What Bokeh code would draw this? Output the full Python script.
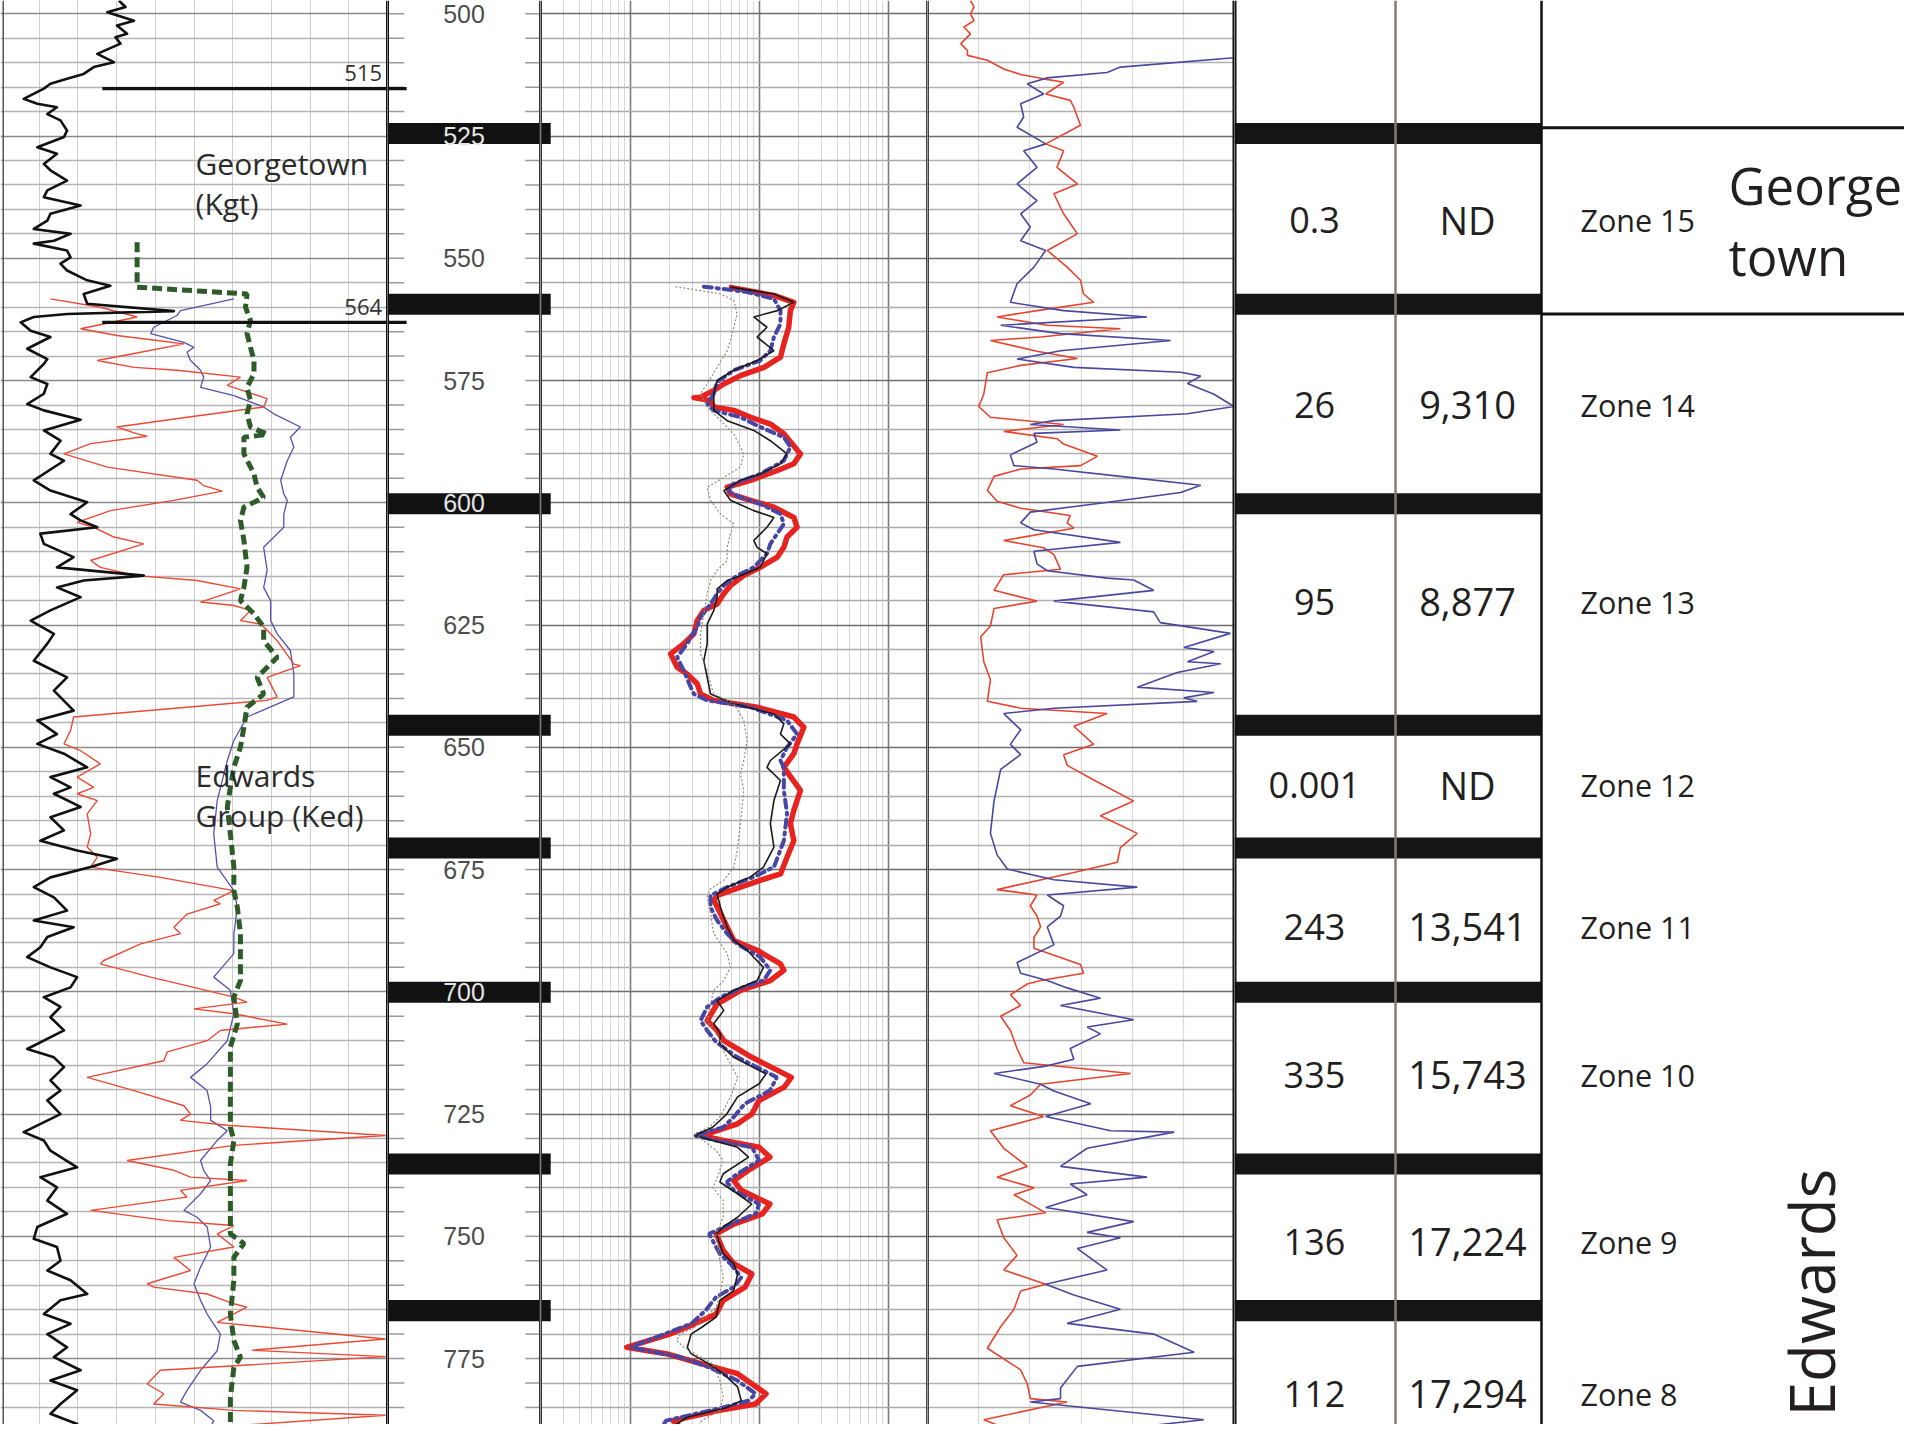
import numpy as np
from bokeh.plotting import figure
from bokeh.layouts import row
from bokeh.models import Range1d, FixedTicker, Grid, Span
from bokeh.core.properties import value
from bokeh.embed import file_html
from bokeh.resources import INLINE

# ------------------------------------------------------------------ data
# Track 1 (linear, % of track): (depth ft, value)
T1_BLACK = [(497.3,30.6),(498.6,32.3),(499.7,27.6),(501.4,34.5),(502.4,30.1),(504.1,32.7),(504.8,29.7),(506.1,31.0),(508.2,25.0),(509.9,29.3),(510.9,24.1),(512.3,21.5),(513.3,17.2),(514.3,12.9),(515.3,11.2),(517.4,6.0),(518.4,9.5),(519.1,14.6),(520.5,12.1),(521.8,15.5),(523.9,17.2),(525.2,16.4),(527.3,9.5),(528.6,14.6),(530.7,11.2),(532.0,12.9),(534.1,17.2),(536.1,12.1),(537.5,11.2),(539.2,20.7),(540.9,12.9),(542.3,12.1),(544.0,8.6),(545.0,18.1),(546.4,13.8),(547.0,8.6),(548.4,17.2),(549.8,18.1),(551.1,15.5),(552.5,17.2),(554.5,22.4),(555.6,28.4),(557.3,21.5),(559.3,22.4),(560.8,44.8),(561.4,17.2),(562.0,8.6),(563.1,5.2),(564.8,7.8),(566.1,12.9),(568.5,6.9),(570.6,12.1),
    (571.6,11.2),(574.3,7.8),(575.7,12.1),(577.7,11.2),(579.8,6.9),(581.1,11.2),(583.0,20.7),(585.2,11.2),(587.3,15.5),(590.0,12.9),(591.4,16.4),(595.4,8.6),(597.5,12.9),(599.9,22.4),(602.3,18.1),(603.6,20.7),(605.0,25.0),(606.3,10.3),(608.4,11.2),(611.1,18.9),(613.2,14.6),(614.9,37.0),(615.9,21.5),(617.3,14.6),(619.3,20.7),
    (622.0,12.9),(624.1,7.8),(626.8,13.8),(628.8,12.1),(632.3,8.6),(635.7,17.2),(638.4,13.8),(642.5,18.9),(644.5,9.5),(647.3,14.6),(649.3,9.5),(651.3,16.4),(654.1,22.4),(656.1,12.9),(658.2,18.1),(659.5,13.8),(662.2,20.7),(664.3,12.9),(667.0,16.4),(669.1,10.3),(671.1,19.8),(672.8,30.1),(674.5,23.3),(676.6,12.9),(678.6,8.6),(680.7,13.8),(683.4,17.2),(685.4,8.6),(686.8,18.9),(688.8,12.1),(690.9,10.3),(692.9,6.9),(695.0,12.9),(697.0,19.8),
    (699.1,18.1),(701.1,11.2),(703.1,15.5),(705.2,12.9),(707.9,16.4),(711.7,6.9),(713.4,13.8),(715.4,16.4),(718.1,12.9),(720.2,15.5),(722.2,12.1),(725.0,15.5),(728.7,6.0),(730.4,11.2),(732.5,12.9),(735.9,19.8),(737.9,10.3),(740.0,14.6),(742.7,12.1),(745.4,17.2),(748.1,9.5),(750.5,8.6),(752.2,14.6),(755.0,15.5),(757.0,12.1),(759.0,18.1),(761.8,22.4),(763.1,15.5),(765.9,11.2),(767.9,18.1),(770.0,12.1),(772.7,17.2),(774.7,13.8),(777.4,20.7),(779.5,12.9),(781.5,19.8),(784.3,15.5),(786.3,12.9),(788.4,19.8),(789.7,14.6),(791.4,21.5)]

T1_RED = [(558.3,12.9),(560.0,25.8),(562.0,35.3),(564.4,20.7),(565.8,30.1),(566.8,40.5),(567.5,47.4),(569.2,36.2),(570.9,25.0),(572.3,34.5),(572.9,45.6),(574.3,62.0),(576.0,58.6),(578.7,68.9),(580.4,68.0),(582.5,48.2),(584.5,30.1),(585.9,35.3),(586.4,37.9),(587.9,23.3),(590.0,16.4),(592.7,27.6),(595.4,50.8),(596.5,52.5),(597.6,57.3),(599.5,44.8),(601.6,28.4),(604.0,19.8),(605.0,24.1),(607.0,29.3),(608.4,37.0),(611.8,23.3),(613.2,25.8),(614.9,35.3),(615.9,50.8),(617.6,62.0),(620.3,51.7),(621.0,60.3),(622.0,64.6),(624.1,62.0),(624.8,67.2),(626.8,69.8),(628.2,71.5),(633.0,75.8),(633.3,77.5),(635.7,68.9),(639.7,71.5),(640.4,68.9),(643.8,18.9),(646.6,18.1),(649.3,16.4),(650.7,20.7),(653.4,25.8),(656.1,19.8),(658.2,24.1),(659.5,19.8),(660.9,25.0),(663.6,22.4),(667.7,23.3),(670.4,22.4),(672.5,25.0),(674.5,23.3),(676.6,41.3),(679.3,60.3),(681.3,55.1),(682.0,56.8),(684.1,48.2),(686.8,44.8),(688.1,46.5),(690.2,36.2),(693.6,26.7),(694.3,25.8),(697.0,38.8),(699.1,50.0),(701.1,60.3),(702.1,63.7),(703.5,50.0),(704.5,60.3),(706.6,74.1),(707.9,56.8),(710.0,53.4),(712.3,43.1),(714.1,42.2),(717.5,22.4),(720.2,34.5),(723.3,47.4),(725.0,49.1),(726.3,46.5),(727.3,58.6),(729.4,99.5),(731.4,60.3),(734.5,32.7),(736.5,44.8),(737.9,49.1),(738.6,63.7),(740.6,46.5),(742.0,48.2),(744.7,23.3),(746.8,43.1),(747.8,60.3),(749.5,56.0),(752.2,60.3),(754.3,44.8),(757.0,49.1),(759.7,37.9),(760.4,39.6),(761.8,53.4),(763.8,60.3),(764.5,63.7),(767.6,56.0),(771.0,99.5),(773.3,65.0),(774.6,99.5),(777.4,41.3),(780.2,37.9),(782.2,42.2),(784.3,39.6),(785.6,60.3),(786.6,99.5),(788.5,65.0),(789.7,99.5),(791.5,62.0)]

T1_BLUE = [(558.3,60.3),(560.7,46.5),(561.7,45.6),(564.1,39.6),(565.4,38.8),(567.2,47.4),(568.2,50.0),(569.2,48.2),(570.9,49.1),(572.9,51.7),(574.3,52.5),(576.4,51.7),(578.1,60.3),(580.4,68.0),(581.8,70.6),(584.5,77.5),(586.6,74.9),(588.6,75.8),(591.4,74.1),(595.4,72.4),(598.2,73.2),(599.5,74.1),(602.3,73.2),(605.0,73.2),(609.1,68.0),(613.8,68.9),(617.3,68.0),(620.0,69.8),(624.1,69.8),(626.8,71.5),(630.2,74.9),(635.0,75.8),(639.7,75.8),(643.8,63.7),(648.6,60.3),(652.7,58.6),(660.9,56.0),(667.7,55.1),(674.5,56.0),(679.3,60.3),(682.7,61.2),(688.1,60.3),(692.2,60.3),(697.0,55.1),(699.7,59.4),(704.5,60.3),(710.0,58.6),(714.7,53.4),(717.5,49.1),(720.2,53.4),(723.6,54.3),(726.3,54.3),(728.4,58.6),(730.4,56.0),(734.5,51.7),(736.5,52.5),(738.6,54.3),(741.3,51.7),(744.7,47.4),(746.1,50.8),(748.1,53.4),(752.2,54.3),(756.3,51.7),(759.7,50.0),(763.1,51.7),(765.9,53.4),(770.0,56.8),(773.4,56.0),(777.4,51.7),(781.5,48.2),(783.9,46.5),(785.6,51.7),(787.7,55.1),(790.4,53.4)]

T1_GREEN = [(546.7,35.3),(555.9,35.3),(557.3,63.7),(560.0,63.3),(562.7,64.6),(565.4,63.7),(568.2,64.6),(570.9,65.5),(573.6,65.5),(576.4,63.7),(579.1,64.6),(581.8,63.7),(584.5,64.6),(586.0,68.9),(586.6,62.9),(590.0,62.9),(594.1,65.5),(596.8,66.3),(598.9,68.0),(600.9,62.9),(603.6,62.0),(607.7,62.9),(613.2,63.7),(617.3,62.9),(620.0,62.0),(622.7,65.5),(625.4,68.0),(628.2,68.0),(631.6,71.5),(635.7,66.3),(639.1,68.0),(641.8,63.7),(645.9,62.9),(650.0,62.0),(654.1,60.3),(658.2,59.4),(662.2,58.6),(667.7,59.4),(674.5,60.3),(679.3,60.3),(682.7,61.2),(688.1,62.0),(693.6,62.0),(697.7,62.0),(701.1,60.3),(706.6,61.2),(711.3,59.4),(721.5,59.4),(727.7,59.4),(730.4,60.3),(735.2,59.4),(745.4,59.4),(749.5,59.4),(751.5,62.9),(754.3,60.3),(759.0,60.3),(765.9,59.4),(771.3,60.3),(774.7,62.0),(776.8,60.3),(782.9,59.4),(788.4,59.4),(791.1,60.3)]

# Track 3 (log, ohm-m 0.2..200): (depth, value)
T3_RED = [(555.9,5.77),(556.6,8.0),(557.6,12.9),(559.0,18.4),(560.7,17.3),(564.1,16.8),(567.5,15.4),(570.2,14.5),(572.3,10.8),(574.0,7.1),(575.7,5.27),(577.0,4.41),(578.4,3.48),(578.5,3.09),(579.1,4.16),(580.4,4.41),(581.1,6.3),(582.5,8.5),(583.9,12.1),(585.9,15.4),(590.0,20.7),(592.0,18.4),(593.4,13.7),(595.4,8.5),(596.8,5.6),(598.2,5.94),(599.5,8.5),(600.9,12.9),(603.0,18.4),(605.0,19.5),(607.0,16.3),(609.1,15.4),(611.1,13.7),(613.2,10.1),(614.9,7.5),(616.9,5.94),(618.6,5.27),(620.7,4.68),(622.0,3.69),(624.1,3.28),(626.8,3.09),(628.8,2.58),(630.9,2.04),(633.6,2.29),(635.0,2.74),(637.0,3.28),(639.1,3.48),(640.4,4.41),(641.8,9.55),(643.8,18.4),(645.9,22.0),(649.3,19.5),(651.3,18.4),(654.1,15.4),(658.8,20.7),(662.9,18.4),(665.6,17.3),(669.1,18.4),(672.5,16.3),(675.9,14.5),(677.2,10.1),(678.6,7.1),(680.3,4.68),(681.3,4.41),(684.0,4.97),(686.8,5.6),(689.5,6.3),(691.5,9.55),(694.3,14.5),(695.6,15.4),(697.7,12.1),(699.7,7.1),(702.5,4.68),(705.9,3.92),(707.9,4.68),(710.0,5.27),(713.4,8.7),(717.5,17.6),(719.5,15.5),(722.2,9.9),(725.0,8.7),(727.0,6.74),(729.4,3.56),(730.4,5.22),(731.8,9.9),(733.8,12.0),(736.5,8.2),(738.6,6.3),(740.6,7.2),(743.4,12.0),(745.4,10.5),(747.5,6.3),(749.5,4.6),(752.9,5.22),(755.6,6.3),(757.7,8.7),(760.4,7.7),(763.1,5.22),(765.9,4.6),(767.9,3.13),(770.0,2.0),(772.7,0.93),(774.0,1.88),(776.1,3.56),(778.1,6.74),(782.2,11.2),(784.3,9.3),(785.6,4.9),(787.7,2.13),(789.7,2.58),(791.8,3.13)]

T3_BLUE = [(555.8,3.69),(556.2,4.97),(556.9,8.0),(558.3,12.9),(560.7,14.5),(563.4,14.5),(566.1,12.9),(568.9,12.1),(570.9,10.1),(572.9,6.3),(575.3,4.68),(577.7,4.41),(579.8,3.92),(581.1,4.41),(582.5,7.1),(584.5,10.1),(586.6,15.4),(588.6,17.3),(591.4,15.4),(594.1,10.1),(596.1,6.3),(597.5,5.6),(598.9,7.1),(600.2,10.1),(602.3,14.5),(604.3,15.4),(606.3,13.7),(608.4,12.1),(610.4,11.4),(613.2,9.0),(614.9,6.69),(616.9,5.27),(618.6,4.68),(620.7,4.16),(623.4,3.48),(625.4,3.28),(628.8,2.74),(631.6,2.29),(634.3,2.58),(637.7,2.92),(639.1,3.09),(640.4,3.92),(641.8,8.49),(644.5,16.3),(647.3,19.5),(650.0,16.3),(652.7,14.5),(654.1,15.4),(658.8,15.4),(663.6,16.3),(669.1,15.4),(674.5,12.9),(676.5,9.0),(678.6,5.6),(680.3,4.16),(682.7,4.16),(685.4,4.68),(688.1,5.6),(690.2,6.69),(692.9,10.1),(695.6,12.1),(697.7,10.7),(699.0,7.53),(701.1,4.97),(703.1,3.92),(705.9,3.48),(707.9,3.92),(710.3,4.6),(713.4,6.74),(717.5,13.6),(720.2,12.0),(722.9,7.66),(725.6,6.3),(727.7,5.22),(729.4,3.13),(730.4,4.6),(731.8,8.7),(734.5,9.9),(737.2,6.74),(738.9,5.56),(740.6,6.3),(743.4,9.9),(745.4,9.3),(747.5,5.94),(749.5,4.05),(753.6,4.91),(755.6,5.94),(758.4,7.2),(760.4,6.3),(762.4,4.6),(765.2,3.80),(767.9,2.94),(769.3,2.13),(772.7,0.99),(774.7,2.42),(776.8,4.05),(779.5,6.74),(782.2,9.3),(783.6,8.2),(785.0,5.22),(787.7,1.88),(789.0,1.76),(791.1,2.13)]

T3_BLACK = [(555.9,5.94),(557.3,12.9),(559.0,18.4),(560.7,13.7),(562.0,9.0),(564.1,11.4),(566.1,9.55),(568.9,12.9),(570.9,9.55),(572.9,6.3),(575.0,4.68),(577.7,4.41),(581.1,4.41),(583.2,5.6),(585.2,9.0),(587.3,12.1),(590.0,16.3),(592.0,14.5),(594.1,10.1),(595.4,7.1),(597.5,5.27),(599.5,5.94),(601.6,9.0),(603.0,12.9),(605.0,11.4),(607.7,9.0),(609.1,9.55),(610.4,11.4),(613.2,10.1),(614.9,7.1),(615.9,5.6),(617.6,4.68),(619.3,4.68),(622.0,4.41),(624.8,3.92),(628.8,3.92),(632.3,3.69),(635.7,3.92),(639.1,4.16),(641.1,6.3),(643.2,12.9),(645.2,15.4),(647.3,14.5),(649.3,17.3),(652.7,12.1),(654.1,11.4),(656.8,14.5),(660.9,12.9),(665.6,12.1),(670.4,12.9),(674.5,10.7),(676.5,8.49),(678.6,5.6),(680.0,4.68),(682.7,4.97),(686.8,5.6),(689.5,6.3),(691.5,8.0),(695.0,10.7),(697.7,9.55),(699.7,6.3),(701.8,4.68),(703.8,5.27),(706.5,4.41),(708.6,4.97),(710.6,4.91),(713.4,6.3),(716.8,11.2),(718.8,9.9),(721.5,6.74),(725.0,5.56),(727.7,4.32),(729.4,3.13),(730.4,4.32),(731.8,6.74),(733.8,8.2),(737.2,5.22),(738.9,4.91),(741.3,6.74),(743.4,8.7),(746.1,6.74),(748.1,5.22),(749.5,4.6),(753.6,5.22),(755.6,6.3),(757.7,6.74),(761.1,6.3),(763.1,4.91),(766.5,4.6),(768.6,3.56),(770.0,2.94),(772.7,2.75),(774.0,2.94),(776.1,4.05),(778.1,5.22),(780.8,6.74),(783.6,7.2),(785.0,5.56),(787.0,2.75),(788.4,2.27),(790.4,2.94),(791.8,3.80)]

T3_GRAY = [(555.8,2.22),(556.6,3.48),(557.3,4.97),(558.6,6.3),(561.4,6.69),(564.1,6.3),(566.8,5.94),(568.9,5.6),(572.3,4.68),(575.7,3.92),(577.7,3.48),(580.4,3.92),(582.5,4.68),(585.9,6.3),(590.0,7.53),(592.7,7.1),(594.8,5.27),(596.8,3.92),(599.5,4.16),(602.3,4.97),(604.3,6.3),(606.3,5.94),(609.1,5.6),(611.8,5.6),(613.8,4.68),(615.9,4.16),(618.6,3.92),(622.7,3.69),(626.8,3.48),(630.9,3.48),(634.3,3.92),(637.0,4.16),(639.1,4.41),(641.1,6.3),(644.5,7.53),(648.6,8.0),(652.7,7.53),(655.4,7.1),(658.8,7.53),(665.6,7.1),(671.1,6.69),(674.5,6.3),(677.2,5.27),(678.9,4.16),(680.6,3.92),(684.0,4.16),(688.1,4.41),(692.2,5.6),(695.0,5.94),(697.7,5.27),(699.7,4.41),(702.5,4.16),(705.9,3.92),(707.9,4.41),(710.0,4.97),(712.0,5.22),(717.5,6.74),(721.5,5.94),(725.6,4.91),(727.7,4.05),(729.0,3.13),(732.5,4.6),(734.5,5.22),(738.6,4.6),(740.0,4.32),(742.7,5.22),(746.1,5.22),(749.5,4.6),(755.0,4.91),(758.4,5.22),(761.8,4.91),(764.5,4.6),(767.2,3.56),(768.6,3.13),(770.0,2.42),(771.3,2.27),(772.7,2.58),(776.1,4.32),(779.5,4.91),(782.9,5.22),(785.6,4.91),(787.7,3.56),(789.7,3.13),(791.8,3.56)]

# Track 4 (linear, 0..60): (depth, value)
T4_RED = [(497.3,8.4),(498.6,9.1),(500.0,8.4),(501.4,9.1),(502.7,7.1),(504.1,8.4),(506.1,6.5),(507.5,7.8),(508.5,7.8),(509.5,11.7),(511.3,14.9),(512.4,18.2),(513.3,22.7),(514.0,26.6),(516.4,23.1),(517.7,27.9),(519.1,28.6),(522.8,29.9),(526.6,23.1),(528.0,26.6),(531.4,25.3),(534.8,29.3),(536.8,24.7),(540.9,26.6),(545.0,29.3),(548.4,23.4),(551.8,27.3),(554.5,29.9),(557.3,30.5),(559.0,32.5),(560.7,21.4),(562.0,13.6),(563.7,23.4),(564.4,37.7),(566.1,22.1),(566.8,12.3),(569.0,21.4),(570.5,29.3),(571.9,18.2),(573.4,11.7),(577.8,11.0),(580.3,10.0),(582.5,12.3),(584.0,26.6),(585.4,14.9),(586.9,25.3),(588.0,26.6),(590.5,33.2),(592.4,29.9),(593.1,18.2),(594.6,13.0),(597.5,11.7),(599.7,13.6),(601.1,18.2),(602.6,27.9),(604.1,27.3),(605.2,28.6),(607.7,14.9),(609.2,22.7),(610.6,24.7),(613.6,26.0),(614.7,14.9),(617.9,13.0),(620.1,21.4),(621.6,13.0),(625.2,12.3),(627.4,10.4),(632.5,11.0),(636.2,12.3),(640.6,11.7),(642.0,18.2),(643.1,35.1),(645.7,28.6),(649.4,32.5),(651.5,26.6),(653.7,27.3),(656.7,32.5),(661.0,40.3),(664.0,33.8),(667.6,41.0),(670.5,37.7),(673.5,37.1),(675.6,28.6),(679.1,13.6),(680.2,21.4),(682.4,20.1),(684.5,21.4),(686.7,22.1),(688.9,20.8),(691.1,20.8),(694.4,29.9),(696.2,30.5),(697.7,22.1),(698.4,19.5),(700.6,16.2),(702.8,18.2),(705.0,14.3),(707.9,16.2),(711.6,17.5),(714.5,18.8),(716.7,39.7),(718.9,22.1),(721.1,20.1),(723.3,16.2),(725.5,22.7),(728.4,12.3),(732.0,14.9),(735.7,19.5),(737.9,13.6),(740.1,20.8),(741.5,16.9),(745.2,23.1),(746.6,13.6),(750.3,14.9),(753.9,17.5),(756.9,14.9),(759.8,23.1),(761.2,18.2),(764.9,16.9),(768.5,14.3),(772.9,11.7),(777.3,18.2),(780.2,19.5),(783.2,20.1),(783.9,27.3),(787.5,11.0),(790.5,18.2),(791.2,24.7)]

T4_BLUE = [(497.3,59.9),(509.0,59.9),(510.9,37.7),(512.0,35.1),(513.1,23.4),(514.3,19.5),(516.4,22.7),(518.4,18.2),(521.1,18.8),(523.2,17.5),(526.6,23.1),(528.0,18.8),(531.4,21.4),(534.8,17.5),(538.2,21.4),(540.9,18.2),(543.6,20.1),(546.4,18.2),(548.4,23.1),(551.8,20.8),(555.2,17.5),(559.0,16.2),(560.7,26.6),(562.0,42.9),(563.7,14.3),(565.4,26.0),(566.8,47.5),(568.9,26.0),(570.6,17.5),(572.3,28.6),(573.3,49.5),(574.1,53.4),(575.6,50.8),(577.8,56.0),(580.3,59.9),(581.8,50.8),(583.2,24.7),(584.0,20.1),(585.1,37.7),(585.8,20.8),(587.6,21.4),(590.2,16.2),(592.4,16.9),(593.1,24.7),(594.6,37.7),(596.4,53.4),(597.9,49.5),(600.0,34.5),(601.9,20.1),(604.1,18.2),(605.5,20.8),(608.1,37.7),(609.9,20.8),(612.5,21.4),(613.9,23.4),(615.4,35.1),(615.8,40.3),(617.9,44.2),(620.1,24.7),(622.3,44.2),(624.5,45.5),(626.7,59.2),(629.6,50.1),(630.4,56.0),(632.5,50.8),(632.9,57.3),(634.7,48.8),(637.7,41.0),(638.8,56.0),(639.9,50.1),(640.6,52.7),(642.0,24.7),(643.1,14.9),(646.4,18.2),(649.4,16.2),(651.5,18.2),(654.5,14.3),(661.0,13.0),(667.6,12.3),(672.0,13.6),(674.9,15.6),(677.1,24.7),(678.6,41.0),(680.2,23.4),(682.4,26.6),(684.5,26.0),(686.7,23.4),(690.4,24.7),(694.0,17.5),(696.2,18.2),(697.7,23.4),(699.2,27.3),(701.3,33.8),(702.8,26.0),(705.7,40.3),(707.2,31.2),(708.6,33.8),(711.6,27.9),(713.8,28.6),(715.2,23.1),(716.7,13.0),(718.9,22.1),(720.3,24.7),(722.9,31.9),(725.5,23.1),(728.4,35.8),(728.7,48.2),(732.0,31.2),(735.7,26.0),(737.9,42.9),(739.3,27.9),(741.5,31.2),(744.1,23.1),(747.0,40.3),(749.2,31.2),(750.3,37.7),(752.5,29.3),(756.9,35.1),(759.8,23.1),(762.0,28.6),(764.9,37.7),(767.8,27.3),(770.0,44.2),(773.7,52.1),(776.6,29.3),(781.0,26.0),(783.2,26.0),(783.9,20.1),(787.5,54.0),(789.7,35.1),(791.2,22.7)]

# Formation tops, zone boundaries, table
FORMATION_TOPS = [515.3, 563.1]
FORMATION_TOP_LABELS = ["515", "564"]
FORMATION_NAMES = [("Georgetown", 530.6), ("(Kgt)", 538.8), ("Edwards", 655.8), ("Group (Ked)", 664.0)]
DEPTH_LABELS = [500, 525, 550, 575, 600, 625, 650, 675, 700, 725, 750, 775]
ZONE_BOUNDARIES = [524.5, 559.4, 600.2, 645.5, 670.6, 700.1, 735.2, 765.2]
ZONE_NAMES = ["Zone 15", "Zone 14", "Zone 13", "Zone 12", "Zone 11", "Zone 10", "Zone 9", "Zone 8"]
ZONE_COL1 = ["0.3", "26", "95", "0.001", "243", "335", "136", "112"]
ZONE_COL2 = ["ND", "9,310", "8,877", "ND", "13,541", "15,743", "17,224", "17,294"]
ZONE_ROW_DEPTHS = [542.1, 580.1, 620.2, 657.8, 686.8, 717.1, 751.2, 782.3]
GEORGETOWN_LIMITS = [523.3, 561.4]

# ------------------------------------------------------------------ layout
H = 1424
PX_PER_FT = 4.89
TOP = 497.28
BOTTOM = TOP + H / PX_PER_FT
W1, WD, W3, W4, WT = 387, 153, 387, 307, 670
FONT = value("Open Sans")
YR = Range1d(BOTTOM, TOP)
ALL5 = list(range(500, 790, 5))
MAJ25 = [d for d in ALL5 if d % 25 == 0]
MIN5 = [d for d in ALL5 if d % 25 != 0]


def track(width, xr, xtype="linear"):
    p = figure(width=width, height=H, x_range=xr, y_range=YR, x_axis_type=xtype,
               x_axis_location=None, y_axis_location=None, toolbar_location=None,
               output_backend="svg", min_border=0, outline_line_color=None,
               background_fill_color="white", border_fill_color="white")
    p.grid.visible = False
    return p


def grid(p, dim, ticks, color, width, minor=(), minor_color=None, minor_width=1.0):
    p.add_layout(Grid(dimension=dim, ticker=FixedTicker(ticks=list(ticks), minor_ticks=list(minor)),
                      grid_line_color=color, grid_line_width=width,
                      minor_grid_line_color=minor_color, minor_grid_line_width=minor_width))


def vline(p, loc, color, width):
    p.add_layout(Span(location=loc, dimension="height", line_color=color, line_width=width))


def curve(p, pairs, **kw):
    d, v = zip(*pairs)
    p.line(x=list(v), y=list(d), **kw)


# ---- Track 1
p1 = track(W1, Range1d(0, 100))
grid(p1, 0, range(10, 100, 10), "#cfcfcf", 1)
grid(p1, 1, MAJ25, "#8a8a8a", 1.5, MIN5, "#b5b5b5", 1.3)
vline(p1, 0.7, "#555555", 1.5)
vline(p1, 100, "#111111", 3)
curve(p1, T1_BLUE, line_color="#5652ad", line_width=1.3)
curve(p1, T1_RED, line_color="#ea4a35", line_width=1.4)
curve(p1, T1_GREEN, line_color="#2e5c29", line_width=5, line_dash="10 5")
curve(p1, T1_BLACK, line_color="#111111", line_width=2.6, line_join="round")
p1.segment(x0=[26.3] * 2, x1=[100] * 2, y0=FORMATION_TOPS, y1=FORMATION_TOPS,
           line_color="#111111", line_width=3.2)
p1.text(x=[98.6] * 2, y=[t - 3.2 for t in FORMATION_TOPS], text=FORMATION_TOP_LABELS,
        text_font=FONT, text_font_size=value("22px"), text_align="right",
        text_baseline="middle", text_color="#333333")
p1.text(x=[50.4] * 4, y=[f[1] for f in FORMATION_NAMES], text=[f[0] for f in FORMATION_NAMES],
        text_font=FONT, text_font_size=value("30px"), text_align="left",
        text_baseline="middle", text_color="#2b2b2b")

# ---- Depth track
BAR = 4.3
pd = track(WD, Range1d(0, 1))
vline(pd, 0, "#111111", 3)
vline(pd, 1, "#333333", 3)
pd.segment(x0=[0] * len(ALL5), x1=[0.11] * len(ALL5), y0=ALL5, y1=ALL5, line_color="#9a9a9a", line_width=1.5)
pd.segment(x0=[0.9] * len(ALL5), x1=[1.0] * len(ALL5), y0=ALL5, y1=ALL5, line_color="#9a9a9a", line_width=1.5)
pd.quad(left=0, right=1, top=[z - BAR / 2 for z in ZONE_BOUNDARIES],
        bottom=[z + BAR / 2 for z in ZONE_BOUNDARIES], fill_color="#111111", line_color=None)
pd.segment(x0=[0] * 2, x1=[0.125] * 2, y0=FORMATION_TOPS, y1=FORMATION_TOPS,
           line_color="#111111", line_width=3.2)
on_bar = [any(abs(d - z) < BAR / 2 for z in ZONE_BOUNDARIES) for d in DEPTH_LABELS]
pd.text(x=[0.5] * len(DEPTH_LABELS), y=DEPTH_LABELS, text=[str(d) for d in DEPTH_LABELS],
        text_font=value("Liberation Sans"), text_font_size=value("25px"), text_align="center",
        text_baseline="middle", text_color=["#e4e4e4" if b else "#4d4d4d" for b in on_bar])

# ---- Track 3 (log)
p3 = track(W3, Range1d(0.2, 200), "log")
minor_log = [m * 10.0 ** e for e in (-1, 0, 1) for m in range(2, 10) if 0.2 < m * 10.0 ** e < 200]
grid(p3, 0, [1, 10, 100], "#7a7a7a", 1.6, minor_log, "#ddd5d5", 1.0)
grid(p3, 1, MAJ25, "#6e6e6e", 1.5, MIN5, "#ababab", 1.3)
vline(p3, 0.2, "#333333", 3)
vline(p3, 200, "#444444", 3)
p3.quad(left=0.2, right=0.24, top=[z - BAR / 2 for z in ZONE_BOUNDARIES],
        bottom=[z + BAR / 2 for z in ZONE_BOUNDARIES], fill_color="#111111", line_color=None)
curve(p3, T3_RED, line_color="#e6231e", line_width=5.5, line_join="round")
curve(p3, T3_BLUE, line_color="#4646a6", line_width=4, line_dash="8 5 2 5", line_cap="round")
curve(p3, T3_BLACK, line_color="#1a1a1a", line_width=1.6)
curve(p3, T3_GRAY, line_color="#8c8c78", line_width=1.2, line_dash="2 2")

# ---- Track 4
p4 = track(W4, Range1d(0, 60))
grid(p4, 0, [10, 20, 30, 40, 50], "#dadada", 1.2)
grid(p4, 1, MAJ25, "#6e6e6e", 1.5, MIN5, "#b0b0b0", 1.3)
vline(p4, 0, "#444444", 3)
vline(p4, 60, "#111111", 4)
curve(p4, T4_RED, line_color="#e5452e", line_width=1.6)
curve(p4, T4_BLUE, line_color="#4a489e", line_width=1.6)

# ---- Table
C1_X, C2_X, ZONE_X, COL_EDGE1, COL_EDGE2 = 80, 233, 346, 161, 307
pt = track(WT, Range1d(0, WT))
pt.quad(left=0, right=COL_EDGE2, top=[z - BAR / 2 for z in ZONE_BOUNDARIES],
        bottom=[z + BAR / 2 for z in ZONE_BOUNDARIES], fill_color="#151515", line_color=None)
vline(pt, 0, "#111111", 4)
vline(pt, COL_EDGE1, "#857b71", 2.5)
vline(pt, COL_EDGE2, "#111111", 2.5)
pt.segment(x0=[COL_EDGE2] * 2, x1=[WT] * 2, y0=GEORGETOWN_LIMITS, y1=GEORGETOWN_LIMITS,
           line_color="#111111", line_width=3)
n = len(ZONE_NAMES)
pt.text(x=[C1_X] * n, y=ZONE_ROW_DEPTHS, text=ZONE_COL1, text_font=FONT,
        text_font_size=value("36px"), text_align="center", text_baseline="middle", text_color="#231f20")
pt.text(x=[C2_X] * n, y=ZONE_ROW_DEPTHS, text=ZONE_COL2, text_font=FONT,
        text_font_size=value("38px"), text_align="center", text_baseline="middle", text_color="#231f20")
pt.text(x=[ZONE_X] * n, y=ZONE_ROW_DEPTHS, text=ZONE_NAMES, text_font=FONT,
        text_font_size=value("30.5px"), text_align="left", text_baseline="middle", text_color="#231f20")
pt.text(x=[494, 494], y=[535.0, 549.6], text=["George", "town"], text_font=FONT,
        text_font_size=value("51px"), text_align="left", text_baseline="middle", text_color="#231f20")
pt.text(x=[576], y=[761.5], text=["Edwards"], angle=np.pi / 2, text_font=FONT,
        text_font_size=value("62px"), text_align="center", text_baseline="middle", text_color="#231f20")

layout = row(p1, pd, p3, p4, pt)
open("out.html", "w").write(file_html(layout, INLINE, title="Well log"))
